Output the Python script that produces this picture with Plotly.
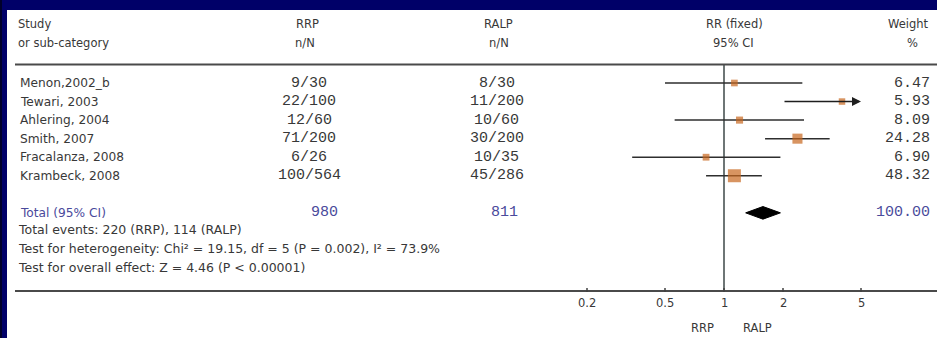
import math
import plotly.graph_objects as go

# ---- data ----
studies = ["Menon,2002_b", "Tewari, 2003", "Ahlering, 2004", "Smith, 2007",
           "Fracalanza, 2008", "Krambeck, 2008"]
rrp_nN = ["9/30", "22/100", "12/60", "71/200", "6/26", "100/564"]
ralp_nN = ["8/30", "11/200", "10/60", "30/200", "10/35", "45/286"]
weights = [6.47, 5.93, 8.09, 24.28, 6.90, 48.32]
rr = [1.13, 4.00, 1.20, 2.37, 0.81, 1.13]
rr_lo = [0.50, 2.00, 0.56, 1.62, 0.34, 0.81]
rr_hi = [2.51, 7.94, 2.56, 3.46, 1.94, 1.56]

total_rrp = "980"
total_ralp = "811"
total_weight = "100.00"
pooled_rr, pooled_lo, pooled_hi = 1.58, 1.29, 1.94

tick_vals = [0.2, 0.5, 1, 2, 5]
tick_text = ["0.2", "0.5", "1", "2", "5"]
axis_min, axis_max = 0.2, 5

footer = [
    "Total events: 220 (RRP), 114 (RALP)",
    "Test for heterogeneity: Chi² = 19.15, df = 5 (P = 0.002), I² = 73.9%",
    "Test for overall effect: Z = 4.46 (P < 0.00001)",
]

# ---- page geometry (pixels) ----
W, H = 937, 338
X_ONE = 724.0          # pixel position of RR = 1
PX_PER_DEC = 196.0     # pixels per decade on the log axis
ROW0, ROW_STEP = 83.0, 18.55

NAVY = "#000068"
TXT = "#383838"
BLUE = "#4a4a9c"
ORANGE = "#c8661e"
SANS = "DejaVu Sans"
MONO = "Liberation Mono"


def px(xp):
    return xp / W


def py(yp):
    return 1 - yp / H


def row_y(yp):
    return (yp - ROW0) / ROW_STEP


fig = go.Figure()

# confidence-interval lines and study squares
for i in range(len(studies)):
    hi = min(rr_hi[i], axis_max)
    lo = max(rr_lo[i], axis_min)
    if rr_hi[i] > axis_max:
        fig.add_annotation(x=math.log10(hi), y=i, ax=math.log10(lo), ay=i,
                           xref="x", yref="y", axref="x", ayref="y",
                           showarrow=True, arrowhead=2, arrowsize=1.2,
                           arrowwidth=1.5, arrowcolor="#1e1e1e", text="",
                           standoff=0)
    else:
        fig.add_trace(go.Scatter(x=[lo, hi], y=[i, i], mode="lines",
                                 line=dict(color="#2e2e2e", width=1.5),
                                 hoverinfo="skip", showlegend=False))

sizes = [3 + 10 * math.sqrt(w / max(weights)) for w in weights]
fig.add_trace(go.Scatter(x=rr, y=list(range(len(studies))), mode="markers",
                         marker=dict(symbol="square", size=sizes, color=ORANGE,
                                     line=dict(width=0)),
                         showlegend=False))

# pooled diamond
ty = 7
dh = 0.34
fig.add_trace(go.Scatter(x=[pooled_lo, pooled_rr, pooled_hi, pooled_rr, pooled_lo],
                         y=[ty, ty - dh, ty, ty + dh, ty], mode="lines",
                         fill="toself", fillcolor="black",
                         line=dict(color="black", width=1), showlegend=False))

shapes = []
# navy frame
shapes.append(dict(type="rect", xref="paper", yref="paper", x0=0, x1=1,
                   y0=py(10), y1=1, fillcolor=NAVY, line=dict(width=0), layer="above"))
shapes.append(dict(type="rect", xref="paper", yref="paper", x0=0, x1=px(7),
                   y0=0, y1=1, fillcolor=NAVY, line=dict(width=0), layer="above"))
shapes.append(dict(type="rect", xref="paper", yref="paper", x0=0, x1=px(2),
                   y0=0, y1=1, fillcolor="#00002a", line=dict(width=0), layer="above"))
# header rule and axis rule
shapes.append(dict(type="line", xref="paper", yref="paper", x0=px(15), x1=1,
                   y0=py(64.5), y1=py(64.5), line=dict(color="#4a4a4a", width=1.8)))
shapes.append(dict(type="line", xref="paper", yref="paper", x0=px(15), x1=1,
                   y0=py(291), y1=py(291), line=dict(color="#4a4a4a", width=1.8)))
# line of no effect
shapes.append(dict(type="line", xref="x", yref="paper", x0=1, x1=1,
                   y0=py(291), y1=py(64.5), line=dict(color="#4a5454", width=1.6),
                   layer="below"))
# tick marks
for t in tick_vals:
    shapes.append(dict(type="line", xref="x", yref="paper", x0=t, x1=t,
                       y0=py(292), y1=py(288), line=dict(color="#404040", width=1.5)))

ann = list(fig.layout.annotations)


def txt(x, y, s, size=11, color=TXT, family=SANS, anchor="left", yref="paper", xref="paper"):
    ann.append(dict(x=x, y=y, xref=xref, yref=yref, text=s, showarrow=False,
                    xanchor=anchor, yanchor="middle",
                    font=dict(family=family, size=size, color=color)))


HDR = 11.5
# column headers
txt(px(16), py(24), "Study", HDR)
txt(px(16), py(43), "or sub-category", HDR)
txt(px(307), py(24), "RRP", HDR, anchor="center")
txt(px(305), py(43), "n/N", HDR, anchor="center")
txt(px(498), py(24), "RALP", HDR, anchor="center")
txt(px(499), py(43), "n/N", HDR, anchor="center")
txt(px(734), py(24), "RR (fixed)", HDR, anchor="center")
txt(px(733), py(43), "95% CI", HDR, anchor="center")
txt(px(908), py(24), "Weight", HDR, anchor="center")
txt(px(912), py(43), "%", HDR, anchor="center")

# study rows
for i, s in enumerate(studies):
    txt(px(18), i, s, 12.2, yref="y")
    txt(px(309), i, rrp_nN[i], 15, family=MONO, anchor="center", yref="y")
    txt(px(497), i, ralp_nN[i], 15, family=MONO, anchor="center", yref="y")
    txt(px(932), i, f"{weights[i]:.2f}", 15, family=MONO, anchor="right", yref="y")

# total row
txt(px(18), ty, "Total (95% CI)", 12.2, color=BLUE, yref="y")
txt(px(340), ty, total_rrp, 15, color=BLUE, family=MONO, anchor="right", yref="y")
txt(px(520), ty, total_ralp, 15, color=BLUE, family=MONO, anchor="right", yref="y")
txt(px(932), ty, total_weight, 15, color=BLUE, family=MONO, anchor="right", yref="y")

# footer statistics
for k, s in enumerate(footer):
    txt(px(16), py(229 + 19 * k), s, 12.5)

# favours labels
txt(px(702), py(328), "RRP", 11.5, anchor="center")
txt(px(757), py(328), "RALP", 11.5, anchor="center")

# tick labels under the axis rule
for t, lab in zip(tick_vals, tick_text):
    txt(math.log10(t), py(303), lab, 11.5, anchor="center", xref="x")

fig.update_layout(
    width=W, height=H, margin=dict(l=0, r=0, t=0, b=0),
    paper_bgcolor="white", plot_bgcolor="white",
    shapes=shapes, annotations=ann, showlegend=False,
    xaxis=dict(type="log", range=[(0 - X_ONE) / PX_PER_DEC, (W - X_ONE) / PX_PER_DEC],
               domain=[0, 1], showgrid=False, zeroline=False, showline=False,
               showticklabels=False, fixedrange=True),
    yaxis=dict(range=[row_y(H), row_y(0)], domain=[0, 1], showgrid=False,
               zeroline=False, showline=False, showticklabels=False, fixedrange=True),
)

fig.write_html("out.html", config={"displayModeBar": False})
